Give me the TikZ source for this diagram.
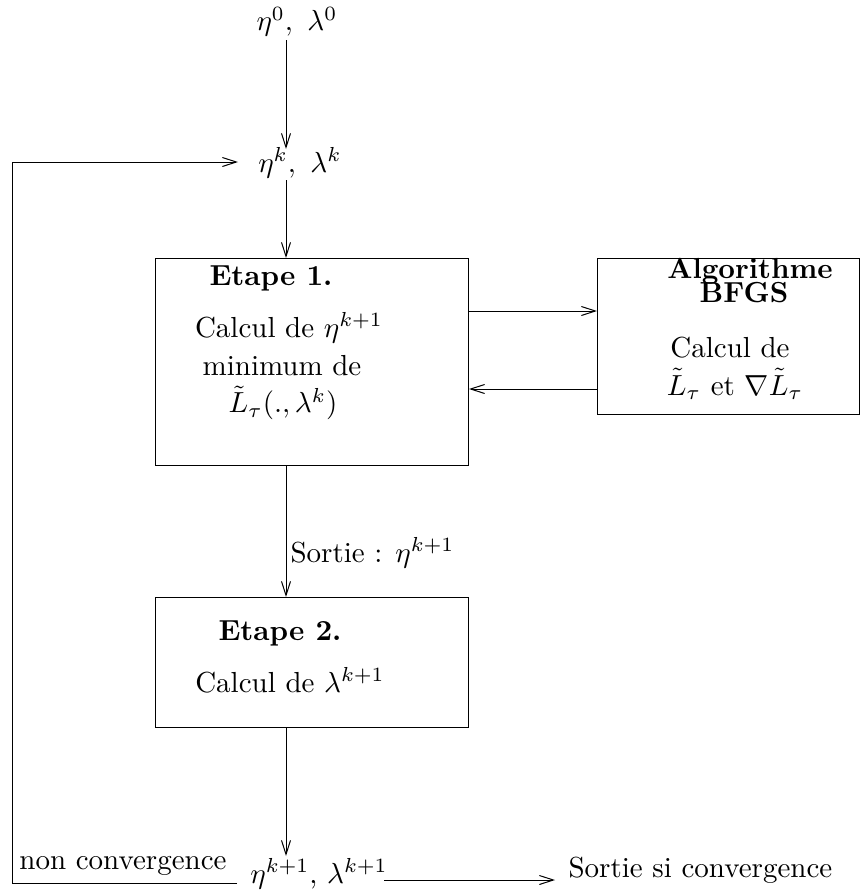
\documentclass[tikz,border=0pt]{standalone}
\usetikzlibrary{arrows.meta}
\begin{document}
\begin{tikzpicture}[x=1pt,y=-1pt,
  txt/.style={inner sep=0pt, scale=2.9},
  tip/.style={-{Straight Barb[length=14pt,width=9pt,line width=1pt]}},
  conn/.style={line width=1pt},
  boxshape/.style={draw, line width=1pt, inner sep=0pt, minimum width=313pt, anchor=north west},
  bold/.style={txt, font=\bfseries}]
\useasboundingbox (0,0) rectangle (861,894);
% boxes
\node[boxshape, minimum height=207pt] (b1) at (155,258) {};
\node[boxshape, minimum width=262pt, minimum height=156pt] (b2) at (597,258) {};
\node[boxshape, minimum height=130pt] (b3) at (155,597) {};
% texts
\node[txt] (t0) at (297,22) {$\eta^0,\ \lambda^0$};
\node[txt] (tk) at (300,163) {$\eta^k,\ \lambda^k$};
\node[bold] (e1) at (271,278) {Etape 1.};
\node[txt] (c1) at (289,328) {Calcul de $\eta^{k+1}$};
\node[txt] (m1) at (282,366) {minimum de};
\node[txt] (l1) at (283,403) {$\tilde L_\tau(.,\lambda^k)$};
\node[bold] (a2) at (750,271) {Algorithme};
\node[bold] (bf) at (744,293) {BFGS};
\node[txt] (c2) at (730,348) {Calcul de};
\node[txt] (l2) at (735,384) {$\tilde L_\tau$ et $\nabla\tilde L_\tau$};
\node[txt, anchor=west] (so) at (290,553) {Sortie : $\eta^{k+1}$};
\node[bold] (e2) at (280,633) {Etape 2.};
\node[txt] (c3) at (290,680) {Calcul de $\lambda^{k+1}$};
\node[txt] (tk1) at (319,874) {$\eta^{k+1}$, $\lambda^{k+1}$};
\node[txt] (nc) at (123,866) {non convergence};
\node[txt, anchor=west] (sc) at (568,870) {Sortie si convergence};
% coordinates
\coordinate (p0) at (286,40);
\coordinate (p1) at (286,149);
\coordinate (pk) at (286,180);
\coordinate (fbL) at (12,883);
\coordinate (fbR) at (237,883);
\coordinate (fbT) at (12,162);
\coordinate (fbA) at (238,162);
\coordinate (q1) at (286,856);
\coordinate (ar1) at (384,880);
\coordinate (ar2) at (555,880);
% connectors
\draw[conn,tip] (p0) -- (p1);
\draw[conn,tip] (pk) -- (b1.north -| pk);
\draw[conn,tip] ([yshift=-53pt]b1.north east) -- ([yshift=-53pt]b2.north west);
\draw[conn,tip] ([yshift=-131pt]b2.north west) -- ([yshift=-131pt]b1.north east);
\draw[conn,tip] (b1.south -| pk) -- (b3.north -| pk);
\draw[conn,tip] (b3.south -| pk) -- (q1);
\draw[conn,tip] (fbR) -- (fbL) -- (fbT) -- (fbA);
\draw[conn,tip] (ar1) -- (ar2);
\end{tikzpicture}
\end{document}
